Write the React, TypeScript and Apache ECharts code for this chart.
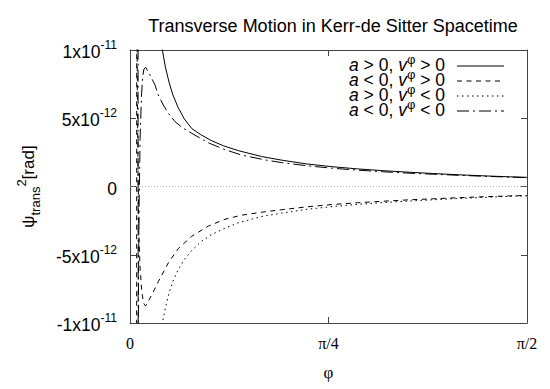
import React, { useEffect, useRef } from "react";
import * as echarts from "echarts";

const TITLE = "Transverse Motion in Kerr-de Sitter Spacetime";
const X_NAME = "φ";
const xTickValues = [0, Math.PI / 4, Math.PI / 2];
const xTickLabels = ["0", "π/4", "π/2"];
// y values are in units of 1e-12 rad
const yTickValues = [-10, -5, 0, 5, 10];
const yTickMantissa = ["-1x10", "-5x10", "0", "5x10", "1x10"];
const yTickExponent = ["-11", "-12", "", "-12", "-11"];

const seriesNames = [
  "a > 0, vφ > 0",
  "a < 0, vφ > 0",
  "a > 0, vφ < 0",
  "a < 0, vφ < 0",
];
const legendSigns = [
  ["a", ">", "v", ">"],
  ["a", "<", "v", ">"],
  ["a", ">", "v", "<"],
  ["a", "<", "v", "<"],
];

// a > 0, v^phi > 0 (solid)
const solidPhi = [0.118, 0.128, 0.14, 0.155, 0.17, 0.19, 0.215, 0.244, 0.28, 0.32, 0.37, 0.43, 0.52, 0.6, 0.7, 0.8, 0.9, 1.0, 1.1, 1.2, 1.3, 1.4, 1.5, 1.5708];
const solidVal = [11.4, 10.0, 8.75, 7.6, 6.7, 5.8, 4.95, 4.25, 3.8, 3.38, 2.98, 2.62, 2.2, 1.93, 1.65, 1.45, 1.29, 1.16, 1.05, 0.95, 0.86, 0.78, 0.71, 0.67];

// a < 0, v^phi > 0 (dashed)
const dashedPhi = [0.0262, 0.0267, 0.029, 0.032, 0.035, 0.04, 0.047, 0.055, 0.062, 0.0858, 0.112, 0.1515, 0.191, 0.244, 0.31, 0.376, 0.442, 0.534, 0.6, 0.7, 0.8, 0.9, 1.0, 1.1, 1.2, 1.3, 1.4, 1.5, 1.5708];
const dashedVal = [-15, 15, 7, 1, -3.5, -6.0, -7.8, -8.6, -8.75, -7.95, -6.97, -5.6, -4.55, -3.65, -2.9, -2.4, -2.1, -1.85, -1.7, -1.49, -1.32, -1.19, -1.08, -0.98, -0.9, -0.82, -0.75, -0.69, -0.66];

// a > 0, v^phi < 0 (dotted)
const dottedPhi = [0.118, 0.128, 0.14, 0.155, 0.17, 0.19, 0.215, 0.244, 0.28, 0.32, 0.37, 0.43, 0.52, 0.6, 0.7, 0.8, 0.9, 1.0, 1.1, 1.2, 1.3, 1.4, 1.5, 1.5708];
const dottedVal = [-11.6, -10.0, -8.9, -7.75, -6.95, -6.1, -5.35, -4.7, -4.05, -3.55, -3.1, -2.65, -2.2, -1.95, -1.67, -1.47, -1.31, -1.18, -1.07, -0.97, -0.88, -0.8, -0.72, -0.68];

// a < 0, v^phi < 0 (dash-dot)
const dashDotPhi = [0.0318, 0.0324, 0.034, 0.036, 0.04, 0.045, 0.05, 0.055, 0.062, 0.0791, 0.0989, 0.112, 0.1317, 0.1515, 0.178, 0.211, 0.244, 0.31, 0.376, 0.442, 0.534, 0.6, 0.7, 0.8, 0.9, 1.0, 1.1, 1.2, 1.3, 1.4, 1.5, 1.5708];
const dashDotVal = [15, -15, -6, -1.5, 3.5, 6.5, 8.0, 8.6, 8.73, 8.17, 7.44, 6.7, 5.97, 5.36, 4.75, 4.26, 3.9, 3.2, 2.7, 2.3, 1.95, 1.75, 1.52, 1.34, 1.2, 1.08, 0.98, 0.9, 0.82, 0.75, 0.69, 0.65];

const SANS = "'Liberation Sans', Arial, Helvetica, sans-serif";
const SERIF = "'Liberation Serif', 'Times New Roman', serif";
const INK = "#000";
const FRAME = "#444";

const pairs = (xs: number[], ys: number[]) => xs.map((x, i) => [x, ys[i]]);

const dashStyles: any[] = ["solid", [5, 4.5], [1.5, 3.5], [12, 4, 2, 4]];
const seriesData = [
  pairs(solidPhi, solidVal),
  pairs(dashedPhi, dashedVal),
  pairs(dottedPhi, dottedVal),
  pairs(dashDotPhi, dashDotVal),
];

function buildOption() {
  const axisBase = {
    type: "value",
    splitLine: { show: false },
    axisLine: { show: true, onZero: false, lineStyle: { color: FRAME, width: 1 } },
    axisTick: { show: true, inside: true, length: 6, lineStyle: { color: FRAME, width: 1 } },
  };
  const xCommon = { ...axisBase, min: 0, max: Math.PI / 2, interval: Math.PI / 4 };
  const yCommon = { ...axisBase, min: -10, max: 10, interval: 5 };

  const legendItems: any[] = [];
  const rowY = [66, 81, 96, 111];
  seriesNames.forEach((name, i) => {
    const s = legendSigns[i];
    legendItems.push({
      type: "text",
      x: 445,
      y: rowY[i],
      style: {
        text: `{i|${s[0]}}{n| ${s[1]} 0, }{i|${s[2]}}{s|φ}{n| ${s[3]} 0}`,
        align: "right",
        verticalAlign: "middle",
        fill: INK,
        rich: {
          n: { fontSize: 17.5, fontFamily: SANS, lineHeight: 15, verticalAlign: "bottom", fill: INK, color: INK },
          i: { fontSize: 17.5, fontFamily: SANS, fontStyle: "italic", lineHeight: 15, verticalAlign: "bottom", fill: INK, color: INK },
          s: { fontSize: 13, fontFamily: SANS, lineHeight: 15, verticalAlign: "bottom", padding: [0, 0, 8, 0], fill: INK, color: INK },
        },
      },
    });
    legendItems.push({
      type: "line",
      shape: { x1: 457, y1: rowY[i], x2: 504, y2: rowY[i] },
      style: {
        stroke: INK,
        lineWidth: 1,
        lineDash: dashStyles[i] === "solid" ? null : dashStyles[i],
      },
    });
  });

  return {
    animation: false,
    backgroundColor: "#fff",
    title: {
      text: TITLE,
      left: 328,
      top: 12,
      textAlign: "center",
      textStyle: { fontFamily: SANS, fontSize: 18, fontWeight: "normal", color: INK },
    },
    grid: { left: 130, right: 23, top: 50, bottom: 66 },
    xAxis: [
      {
        ...xCommon,
        position: "bottom",
        name: X_NAME,
        nameLocation: "middle",
        nameGap: 41,
        nameTextStyle: { fontFamily: SERIF, fontSize: 17, color: INK },
        axisLabel: {
          margin: 12,
          fontFamily: SERIF,
          fontSize: 16,
          color: INK,
          formatter: (v: number) => {
            const i = xTickValues.findIndex((t) => Math.abs(t - v) < 1e-6);
            return i >= 0 ? xTickLabels[i] : "";
          },
        },
      },
      {
        ...xCommon,
        position: "top",
        axisLabel: { show: false },
      },
    ],
    yAxis: [
      {
        ...yCommon,
        position: "left",
        name: "{p|ψ}{b|trans}{s|2}{p|[rad]}",
        nameLocation: "middle",
        nameGap: 88,
        nameTextStyle: {
          color: INK,
          rich: {
            p: { fontSize: 17, fontFamily: SANS, lineHeight: 27, color: INK },
            b: { fontSize: 13, fontFamily: SANS, verticalAlign: "bottom", color: INK },
            s: { fontSize: 13, fontFamily: SANS, verticalAlign: "top", color: INK },
          },
        },
        axisLabel: {
          margin: 13,
          color: INK,
          formatter: (v: number) => {
            const i = yTickValues.findIndex((t) => Math.abs(t - v) < 1e-6);
            if (i < 0) return "";
            if (!yTickExponent[i]) return `{m|${yTickMantissa[i]}}`;
            return `{m|${yTickMantissa[i]}}{e|${yTickExponent[i]}}`;
          },
          rich: {
            m: { fontSize: 17.5, fontFamily: SANS, lineHeight: 22, verticalAlign: "bottom", color: INK },
            e: { fontSize: 12, fontFamily: SANS, verticalAlign: "top", color: INK },
          },
        },
      },
      {
        ...yCommon,
        position: "right",
        axisLabel: { show: false },
      },
    ],
    series: seriesData.map((data, i) => ({
      type: "line",
      name: seriesNames[i],
      xAxisIndex: 0,
      yAxisIndex: 0,
      data,
      showSymbol: false,
      symbol: "none",
      clip: true,
      lineStyle: { color: INK, width: 1, type: dashStyles[i] },
      z: 3,
      ...(i === 0
        ? {
            markLine: {
              silent: true,
              symbol: ["none", "none"],
              label: { show: false },
              lineStyle: { color: "#999", type: [1, 2], width: 0.8 },
              data: [{ yAxis: 0 }],
            },
          }
        : {}),
    })),
    graphic: legendItems,
  };
}

export default function App() {
  const ref = useRef<HTMLDivElement>(null);
  useEffect(() => {
    document.body.style.margin = "0";
    const chart = echarts.init(ref.current!, null, { renderer: "svg" });
    chart.setOption(buildOption() as any);
    return () => chart.dispose();
  }, []);
  return <div ref={ref} style={{ width: 550, height: 389 }} />;
}
